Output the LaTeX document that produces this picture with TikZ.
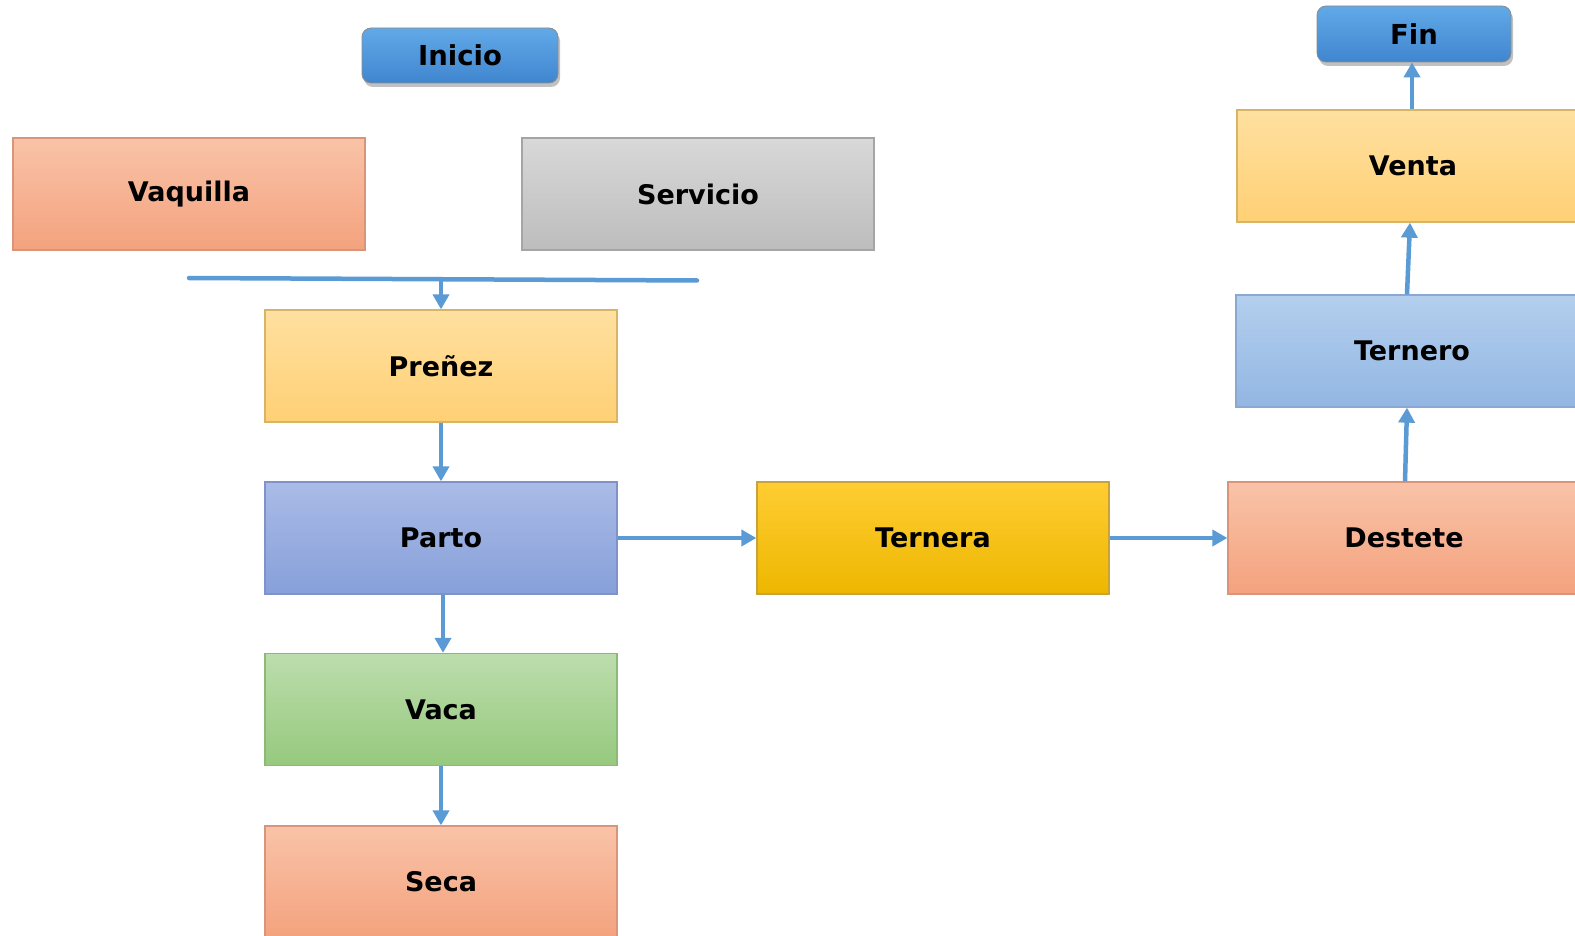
\documentclass[tikz,border=0pt]{standalone}
\usepackage{fontspec}
\setmainfont{DejaVu Sans}
\usetikzlibrary{arrows.meta,shadows}
\definecolor{arrowblue}{HTML}{5B9BD5}
\tikzset{
  box/.style={rectangle, draw=#1, line width=1.3pt, minimum width=352pt, minimum height=112pt,
    font=\fontsize{27}{32}\selectfont\bfseries, text=black},
  term/.style={rectangle, rounded corners=9pt, draw=black!45, line width=0.8pt,
    top color=termtop, bottom color=termbot, minimum width=196pt, minimum height=55pt,
    font=\fontsize{27.5}{32}\selectfont\bfseries, text=black,
    drop shadow={shadow xshift=2pt, shadow yshift=-4pt, opacity=0.4, fill=black!60}},
  flow/.style={draw=arrowblue, line width=4.5pt, -{Triangle[width=16pt,length=15pt]}},
  bar/.style={draw=arrowblue, line width=4.5pt, line cap=round},
}
\definecolor{termtop}{HTML}{62A9E8}
\definecolor{termbot}{HTML}{3F86CF}
\definecolor{ortop}{HTML}{F9C3A8}
\definecolor{orbot}{HTML}{F4A27D}
\definecolor{ordraw}{HTML}{D9957A}
\definecolor{grtop}{HTML}{D8D8D8}
\definecolor{grbot}{HTML}{BDBDBD}
\definecolor{grdraw}{HTML}{A5A5A5}
\definecolor{yltop}{HTML}{FFE0A0}
\definecolor{ylbot}{HTML}{FFD075}
\definecolor{yldraw}{HTML}{D8B566}
\definecolor{putop}{HTML}{AABBE6}
\definecolor{pubot}{HTML}{87A0DA}
\definecolor{pudraw}{HTML}{7F93C8}
\definecolor{gntop}{HTML}{BCDDAC}
\definecolor{gnbot}{HTML}{96C97E}
\definecolor{gndraw}{HTML}{8DB878}
\definecolor{gdtop}{HTML}{FFCD33}
\definecolor{gdbot}{HTML}{EDB700}
\definecolor{gddraw}{HTML}{C9A33A}
\definecolor{bltop}{HTML}{B4CFEE}
\definecolor{blbot}{HTML}{92B6E2}
\definecolor{bldraw}{HTML}{8AA9D0}
\begin{document}
\begin{tikzpicture}[x=1pt,y=-1pt]
\useasboundingbox (0,0) rectangle (1575,936);
\clip (0,0) rectangle (1575,936);
\fill[white] (0,0) rectangle (1575,936);

\node[term] (inicio) at (460,55.5) {Inicio};
\node[term, minimum width=194pt, minimum height=56pt] (fin) at (1414,34) {Fin};

\node[box=ordraw, top color=ortop, bottom color=orbot] (vaquilla) at (189,194) {Vaquilla};
\node[box=grdraw, top color=grtop, bottom color=grbot] (servicio) at (698,194) {Servicio};
\node[box=yldraw, top color=yltop, bottom color=ylbot] (prenez) at (441,366) {Preñez};
\node[box=pudraw, top color=putop, bottom color=pubot] (parto) at (441,538) {Parto};
\node[box=gndraw, top color=gntop, bottom color=gnbot] (vaca) at (441,709.5) {Vaca};
\node[box=ordraw, top color=ortop, bottom color=orbot] (seca) at (441,882) {Seca};
\node[box=gddraw, top color=gdtop, bottom color=gdbot] (ternera) at (933,538) {Ternera};
\node[box=ordraw, top color=ortop, bottom color=orbot] (destete) at (1404,538) {Destete};
\node[box=bldraw, top color=bltop, bottom color=blbot] (ternero) at (1412,351) {Ternero};
\node[box=yldraw, top color=yltop, bottom color=ylbot] (venta) at (1413,166) {Venta};

\coordinate (hl) at (189,278);
\coordinate (hr) at (697,280.5);
\coordinate (hm) at (441,279.5);
\draw[bar] (hl) -- (hr);
\draw[flow] (hm) -- (prenez.north);
\draw[flow] (prenez.south) -- (parto.north);
\draw[flow] ([xshift=2pt]parto.south) -- ([xshift=2pt]vaca.north);
\draw[flow] (vaca.south) -- (seca.north);
\draw[flow] (parto.east) -- (ternera.west);
\draw[flow] (ternera.east) -- (destete.west);
\draw[flow] ([xshift=1pt]destete.north) -- ([xshift=-5pt]ternero.south);
\draw[flow] ([xshift=-5pt]ternero.north) -- ([xshift=-3pt]venta.south);
\draw[flow] ([xshift=-1pt]venta.north) -- ([xshift=-2pt]fin.south);
\end{tikzpicture}
\end{document}
